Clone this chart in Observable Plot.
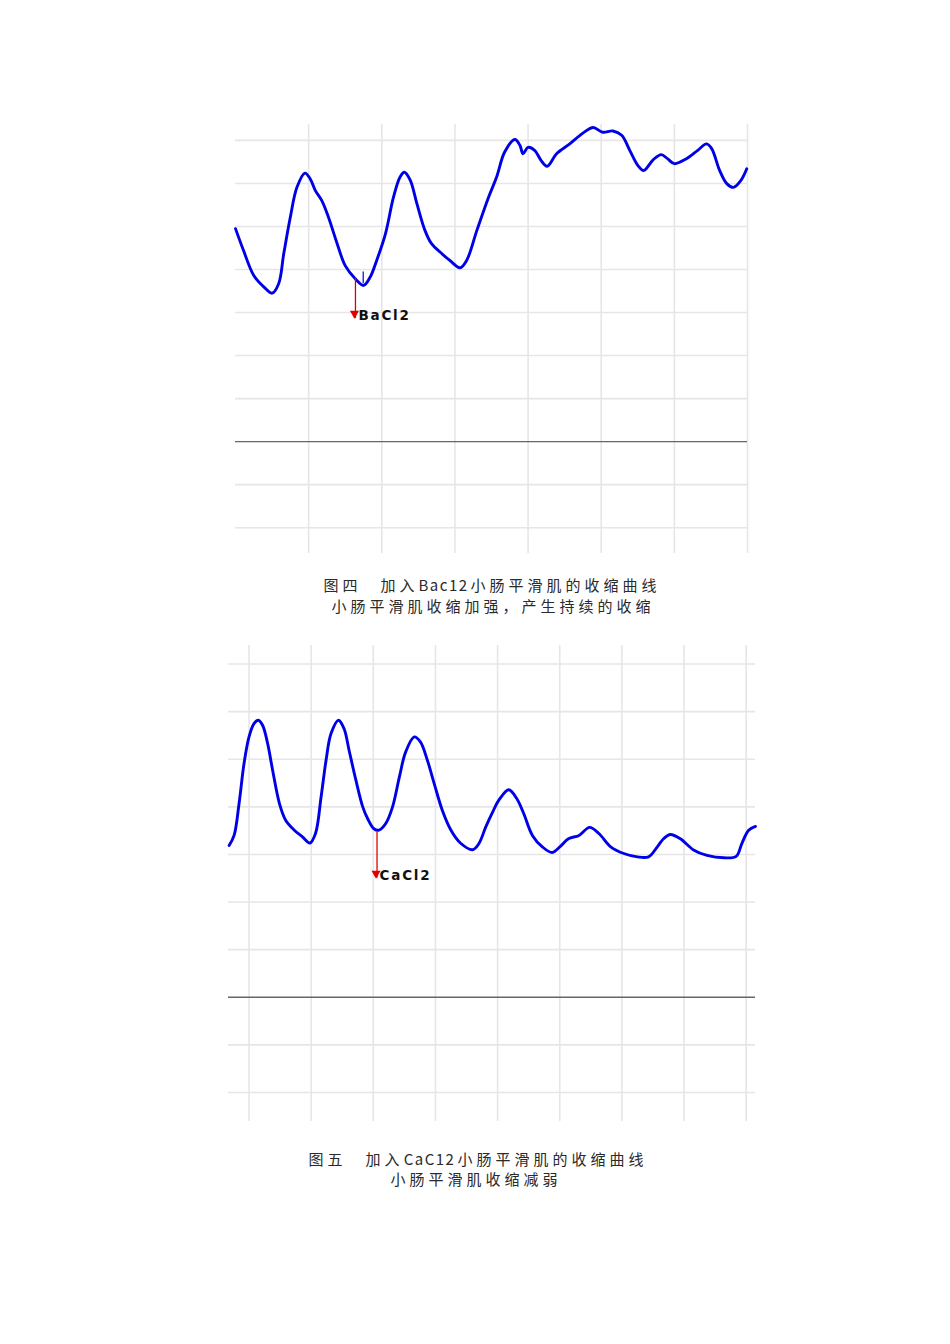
<!DOCTYPE html>
<html>
<head>
<meta charset="utf-8">
<script src="https://cdn.jsdelivr.net/npm/d3@7"></script>
<script src="https://cdn.jsdelivr.net/npm/@observablehq/plot@0.6"></script>
<style>
  body { margin: 0; background: #fff; }
  #page { position: relative; width: 950px; height: 1344px; background: #fff; }
  .chart { position: absolute; }
  .cap { position: absolute; transform: translateX(-50%); white-space: nowrap;
         font-family: "Noto Sans CJK SC", sans-serif; font-size: 15px; line-height: 18px;
         letter-spacing: 4px; color: #2a2a2a; }
  .cap .lat { letter-spacing: 1.5px; padding: 0 2px 0 0; }
</style>
</head>
<body>
<div id="page">
  <div id="c1" class="chart" style="left:225px; top:114px;"></div>
  <div class="cap" style="left:492px; top:576px;">图四　加入<span class="lat">Bac12</span>小肠平滑肌的收缩曲线</div>
  <div class="cap" style="left:493px; top:597px;">小肠平滑肌收缩加强，产生持续的收缩</div>
  <div id="c2" class="chart" style="left:218px; top:635px;"></div>
  <div class="cap" style="left:478px; top:1150px;">图五　加入<span class="lat">CaC12</span>小肠平滑肌的收缩曲线</div>
  <div class="cap" style="left:476px; top:1170px;">小肠平滑肌收缩减弱</div>
</div>
<script>
// ---------- Figure 4: BaCl2 ----------
const bacl2Time = [0.00,0.11,0.25,0.39,0.50,0.59,0.66,0.75,0.84,0.95,1.02,1.09,1.18,1.27,1.39,1.50,1.64,1.75,1.84,1.93,2.05,2.16,2.25,2.31,2.39,2.48,2.59,2.68,2.80,2.93,3.07,3.16,3.30,3.46,3.57,3.68,3.82,3.89,3.93,4.00,4.09,4.18,4.26,4.39,4.57,4.75,4.89,5.02,5.16,5.28,5.39,5.50,5.58,5.71,5.82,5.91,6.00,6.16,6.32,6.44,6.51,6.62,6.72,6.81,6.91,6.99];
const bacl2Tension = [4.95,4.44,3.86,3.59,3.45,3.67,4.37,5.22,5.91,6.24,6.11,5.84,5.60,5.22,4.60,4.09,3.78,3.63,3.82,4.21,4.83,5.68,6.15,6.26,6.07,5.53,4.91,4.60,4.40,4.21,4.04,4.21,4.91,5.68,6.15,6.73,7.02,6.88,6.69,6.84,6.77,6.53,6.40,6.69,6.92,7.17,7.30,7.19,7.22,7.12,6.77,6.42,6.30,6.55,6.67,6.57,6.46,6.57,6.77,6.92,6.81,6.30,5.99,5.91,6.07,6.34];
const bacl2XDomain = [0, 7];
const bacl2YDomain = [-2.6, 7.37];
const bacl2XTicks = [1, 2, 3, 4, 5, 6, 7];
const bacl2YTicks = [-2, -1, 1, 2, 3, 4, 5, 6, 7];
const bacl2Arrow = [{x: 1.64, from: 3.81, to: 2.86, head: 2.98}];
const bacl2Label = [{x: 1.68, y: 2.92, text: "BaCl2"}];
const bacl2Marker = [{x: 1.746, y1: 3.67, y2: 3.94}];

// ---------- Figure 5: CaCl2 ----------
const cacl2Time = [-0.32,-0.24,-0.16,-0.08,0.00,0.08,0.15,0.22,0.30,0.38,0.49,0.59,0.73,0.86,0.98,1.07,1.16,1.24,1.32,1.44,1.53,1.61,1.72,1.83,1.91,2.01,2.09,2.20,2.31,2.42,2.52,2.66,2.76,2.87,2.98,3.11,3.25,3.41,3.60,3.70,3.81,3.92,4.02,4.18,4.31,4.42,4.56,4.72,4.88,5.01,5.14,5.31,5.48,5.63,5.82,6.03,6.25,6.43,6.57,6.67,6.78,6.94,7.16,7.37,7.64,7.84,7.93,8.04,8.15];
const cacl2Tension = [3.19,3.40,4.07,4.91,5.47,5.75,5.82,5.71,5.33,4.77,4.07,3.72,3.51,3.37,3.24,3.44,4.21,4.98,5.54,5.82,5.64,5.19,4.56,4.00,3.75,3.54,3.51,3.65,4.00,4.63,5.15,5.47,5.36,4.98,4.49,3.93,3.51,3.23,3.10,3.23,3.58,3.89,4.14,4.36,4.17,3.86,3.40,3.16,3.04,3.17,3.33,3.40,3.57,3.44,3.16,3.02,2.95,2.95,3.16,3.33,3.42,3.33,3.09,2.98,2.93,2.96,3.23,3.51,3.59];
const cacl2XDomain = [-0.33, 8.15];
const cacl2YDomain = [-2.61, 7.39];
const cacl2XTicks = [0, 1, 2, 3, 4, 5, 6, 7, 8];
const cacl2YTicks = [-2, -1, 1, 2, 3, 4, 5, 6, 7];
const cacl2Arrow = [{x: 2.06, from: 3.47, to: 2.50, head: 2.60}];
const cacl2Label = [{x: 2.10, y: 2.56, text: "CaCl2"}];

function trace({time, tension, xDomain, yDomain, xTicks, yTicks, width, height, arrow, label, marker}) {
  const data = time.map((t, i) => ({t, v: tension[i]}));
  const marks = [
    Plot.ruleY(yTicks, {stroke: "#e6e6e6", strokeWidth: 1.6}),
    Plot.ruleX(xTicks, {stroke: "#e6e6e6", strokeWidth: 1.6}),
    Plot.ruleY([0], {stroke: "#666", strokeWidth: 1.4}),
    Plot.line(data, {x: "t", y: "v", stroke: "#0000e6", strokeWidth: 2.9, curve: "catmull-rom"}),
    Plot.ruleX(arrow, {x: "x", y1: "from", y2: "to", stroke: "#e00000", strokeWidth: 1.3}),
    Plot.dot(arrow, {x: "x", y: "head", symbol: "triangle", rotate: 180, fill: "#e00000", stroke: "none", r: 3.4, dx: -1}),
    Plot.text(label, {x: "x", y: "y", text: "text", textAnchor: "start", fontWeight: "bold",
      fontSize: 13.5, fontFamily: "DejaVu Sans", fill: "#111"})
  ];
  if (marker) marks.push(Plot.ruleX(marker, {x: "x", y1: "y1", y2: "y2", stroke: "#0000e6", strokeWidth: 1.2}));
  const svg = Plot.plot({
    width, height, margin: 10,
    style: {overflow: "visible", background: "transparent"},
    x: {domain: xDomain, axis: null},
    y: {domain: yDomain, axis: null},
    marks
  });
  d3.select(svg).selectAll("text").attr("letter-spacing", "1.8px").style("letter-spacing", "1.8px");
  return svg;
}

document.getElementById("c1").append(trace({
  time: bacl2Time, tension: bacl2Tension, xDomain: bacl2XDomain, yDomain: bacl2YDomain,
  xTicks: bacl2XTicks, yTicks: bacl2YTicks, width: 532, height: 449,
  arrow: bacl2Arrow, label: bacl2Label, marker: bacl2Marker
}));
document.getElementById("c2").append(trace({
  time: cacl2Time, tension: cacl2Tension, xDomain: cacl2XDomain, yDomain: cacl2YDomain,
  xTicks: cacl2XTicks, yTicks: cacl2YTicks, width: 547, height: 496,
  arrow: cacl2Arrow, label: cacl2Label
}));
</script>
</body>
</html>
